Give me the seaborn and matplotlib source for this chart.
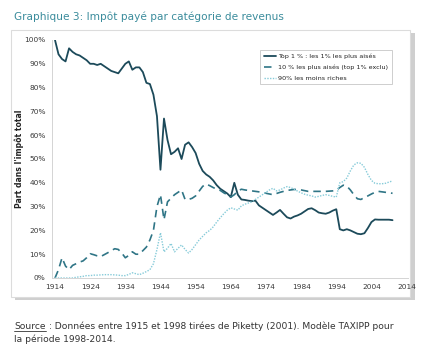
import matplotlib
matplotlib.use("Agg")
import matplotlib.pyplot as plt
import seaborn as sns
import pandas as pd
from matplotlib.patches import Rectangle
from matplotlib.lines import Line2D
from matplotlib.ticker import FuncFormatter

# ---------------- data ----------------
years = list(range(1914, 2011))

top1 = [
    100, 94, 92, 91, 96.5, 95, 94, 93.5, 92.5, 91.5,          # 1914-1923
    90, 90, 89.5, 90, 89, 88, 87, 86.5, 86, 88,               # 1924-1933
    90, 91, 87.5, 88.5, 88.5, 86.5, 82, 81.5, 77, 68,         # 1934-1943
    45.5, 67, 58, 52, 53, 54.5, 50, 56, 57, 55,               # 1944-1953
    52.5, 48, 45, 43.5, 42.5, 41, 39, 37.5, 36.5, 35.5,       # 1954-1963
    34, 40, 35, 33, 32.8, 32.5, 32.3, 32.5, 30.5, 29.5,       # 1964-1973
    28.5, 27.5, 26.5, 27.5, 28.6, 27, 25.5, 25, 25.8, 26.3,   # 1974-1983
    27, 28, 29, 29.3, 28.5, 27.5, 27.2, 27, 27.5, 28.3,       # 1984-1993
    28.9, 20.5, 20, 20.5, 20, 19.3, 18.6, 18.4, 18.8, 21,     # 1994-2003
    23.5, 24.6, 24.5, 24.5, 24.5, 24.5, 24.3,                 # 2004-2010
]

top10 = [
    0, 3.5, 8.5, 5, 3.5, 5.3, 6, 6.7, 7.2, 8.5,               # 1914-1923
    10.2, 9.8, 9.3, 9, 9.8, 10.6, 11.5, 12.3, 12, 10.5,       # 1924-1933
    8.5, 9.5, 11, 10, 10, 11.5, 13, 16, 20, 30,               # 1934-1943
    35, 24.5, 32, 33.5, 35, 36, 37, 33, 33, 33.5,             # 1944-1953
    34.5, 36.5, 38.5, 39.5, 38.8, 38, 37.3, 36.8, 35.8, 35,   # 1954-1963
    34, 35, 36.5, 37.3, 37, 36.8, 36.6, 36.4, 36.2, 36,       # 1964-1973
    35.6, 35.3, 35, 35.5, 36, 36.4, 36.8, 37, 37.2, 37.2,     # 1974-1983
    37, 36.7, 36.4, 36.4, 36.4, 36.4, 36.4, 36.4, 36.5, 36.6, # 1984-1993
    36.8, 38, 39, 38.6, 37, 35, 33.3, 33, 33.8, 34.5,         # 1994-2003
    35.3, 36, 36.4, 36.2, 36, 35.8, 35.6,                     # 2004-2010
]

bottom90 = [
    0, 0, 0, 0, 0, 0, 0.3, 0.5, 0.7, 1,                       # 1914-1923
    1, 1.2, 1.2, 1.3, 1.4, 1.4, 1.4, 1.3, 1.2, 1,             # 1924-1933
    1, 1.5, 2.2, 1.8, 1.4, 2, 2.7, 3.5, 6, 12,                # 1934-1943
    19, 11, 12.5, 14.5, 11, 12.5, 13.9, 12, 10.5, 12,         # 1944-1953
    14, 16, 17.5, 19, 20, 21.5, 23.5, 25.3, 27, 28.5,         # 1954-1963
    29.5, 29, 28.5, 30.3, 31, 31.5, 32, 33, 34, 35,           # 1964-1973
    36, 37, 37.7, 36.6, 37, 37.8, 38.4, 38, 37.3, 36.5,       # 1974-1983
    35.8, 35.2, 34.8, 34.5, 34, 34.3, 34.7, 35, 34.7, 34.3,   # 1984-1993
    34, 40, 40.5, 42, 45, 47.5, 48.4, 48.2, 46.5, 43.5,       # 1994-2003
    41, 39.8, 39.6, 39.6, 39.8, 40.3, 40.8,                   # 2004-2010
]

series_names = [
    "Top 1 % : les 1% les plus aisés",
    "10 % les plus aisés (top 1% exclu)",
    "90% les moins riches",
]
x_ticks = list(range(1914, 2015, 10))
y_ticks = list(range(0, 101, 10))

title = "Graphique 3: Impôt payé par catégorie de revenus"
y_label = "Part dans l'impôt total"
source_word = "Source"
source_line1 = " : Données entre 1915 et 1998 tirées de Piketty (2001). Modèle TAXIPP pour"
source_line2 = "la période 1998-2014."

# ---------------- figure ----------------
sns.set_theme(style="white")
plt.rcParams['font.family'] = ['DejaVu Sans']

W, H = 422, 347
fig = plt.figure(figsize=(W / 100, H / 100), dpi=100)
fig.patch.set_facecolor("white")

def fx(px):
    return px / W

def fy(py):
    return 1 - py / H

# chart frame with light shadow on the right / bottom
fig.patches.append(Rectangle((fx(15), fy(300)), fx(400), (300 - 33) / H,
                             transform=fig.transFigure, facecolor="#cfcfcf",
                             edgecolor="none", zorder=0))
fig.patches.append(Rectangle((fx(11), fy(297)), fx(399), (297 - 30) / H,
                             transform=fig.transFigure, facecolor="white",
                             edgecolor="#dcdcdc", linewidth=0.8, zorder=0.5))

ax = fig.add_axes([fx(52), fy(278), fx(408 - 52), (278 - 40) / H])
ax.set_zorder(2)
ax.set_facecolor("none")

df = pd.DataFrame({
    "year": years * 3,
    "value": top1 + top10 + bottom90,
    "serie": [series_names[0]] * len(years) + [series_names[1]] * len(years)
             + [series_names[2]] * len(years),
})

colors = ["#1c4a5a", "#2f7586", "#86cbd9"]
styles = ["-", (0, (4.5, 3)), (0, (1, 1))]
widths = [1.3, 1.2, 1.0]

for name, c, ls, lw in zip(series_names, colors, styles, widths):
    sns.lineplot(data=df[df["serie"] == name], x="year", y="value", ax=ax,
                 color=c, linestyle=ls, linewidth=lw, label=name)

ax.set_xlim(1913.15, 2014.4)
ax.set_ylim(0, 100)
ax.set_xticks(x_ticks)
ax.set_xticklabels([str(t) for t in x_ticks])
ax.set_yticks(y_ticks)
ax.yaxis.set_major_formatter(FuncFormatter(lambda v, p: f"{int(v)}%"))
ax.tick_params(axis="both", labelsize=5.3, colors="#c8c8c8", labelcolor="#3a3a3a",
               length=2.5, width=0.6, direction="out", pad=2)
ax.set_xlabel("")
ax.set_ylabel(y_label, fontsize=5.6, fontweight="bold", color="#222222")
ax.yaxis.set_label_coords(-0.078, 0.5)

for s in ["top", "right"]:
    ax.spines[s].set_visible(False)
for s in ["left", "bottom"]:
    ax.spines[s].set_color("#d4d4d4")
    ax.spines[s].set_linewidth(0.7)

leg = ax.legend(loc="upper left", bbox_to_anchor=(fx(260), fy(50)),
                bbox_transform=fig.transFigure, fontsize=4.6, frameon=True,
                fancybox=False, edgecolor="#b8b8b8", borderaxespad=0,
                handlelength=1.9, handletextpad=0.4, labelspacing=0.85,
                borderpad=0.55)
leg.get_frame().set_linewidth(0.6)
for t in leg.get_texts():
    t.set_color("#222222")

# title
fig.text(fx(14), fy(20), title, fontsize=7.6, color="#3b8c9c", va="baseline",
         ha="left")

# source text with underlined "Source"
src_kw = dict(fontsize=6.6, color="#333333", va="baseline", ha="left")
t_src = fig.text(fx(14), fy(329), source_word, **src_kw)
fig.canvas.draw()
r = fig.canvas.get_renderer()
bb = t_src.get_window_extent(renderer=r)
x_end = bb.x1 / (W)
fig.text(x_end, fy(329), source_line1, **src_kw)
fig.text(fx(14), fy(342), source_line2, **src_kw)
fig.add_artist(Line2D([fx(14), x_end], [fy(330.5), fy(330.5)],
                      transform=fig.transFigure, color="#333333", linewidth=0.6))

fig.savefig("out.png", dpi=100)
